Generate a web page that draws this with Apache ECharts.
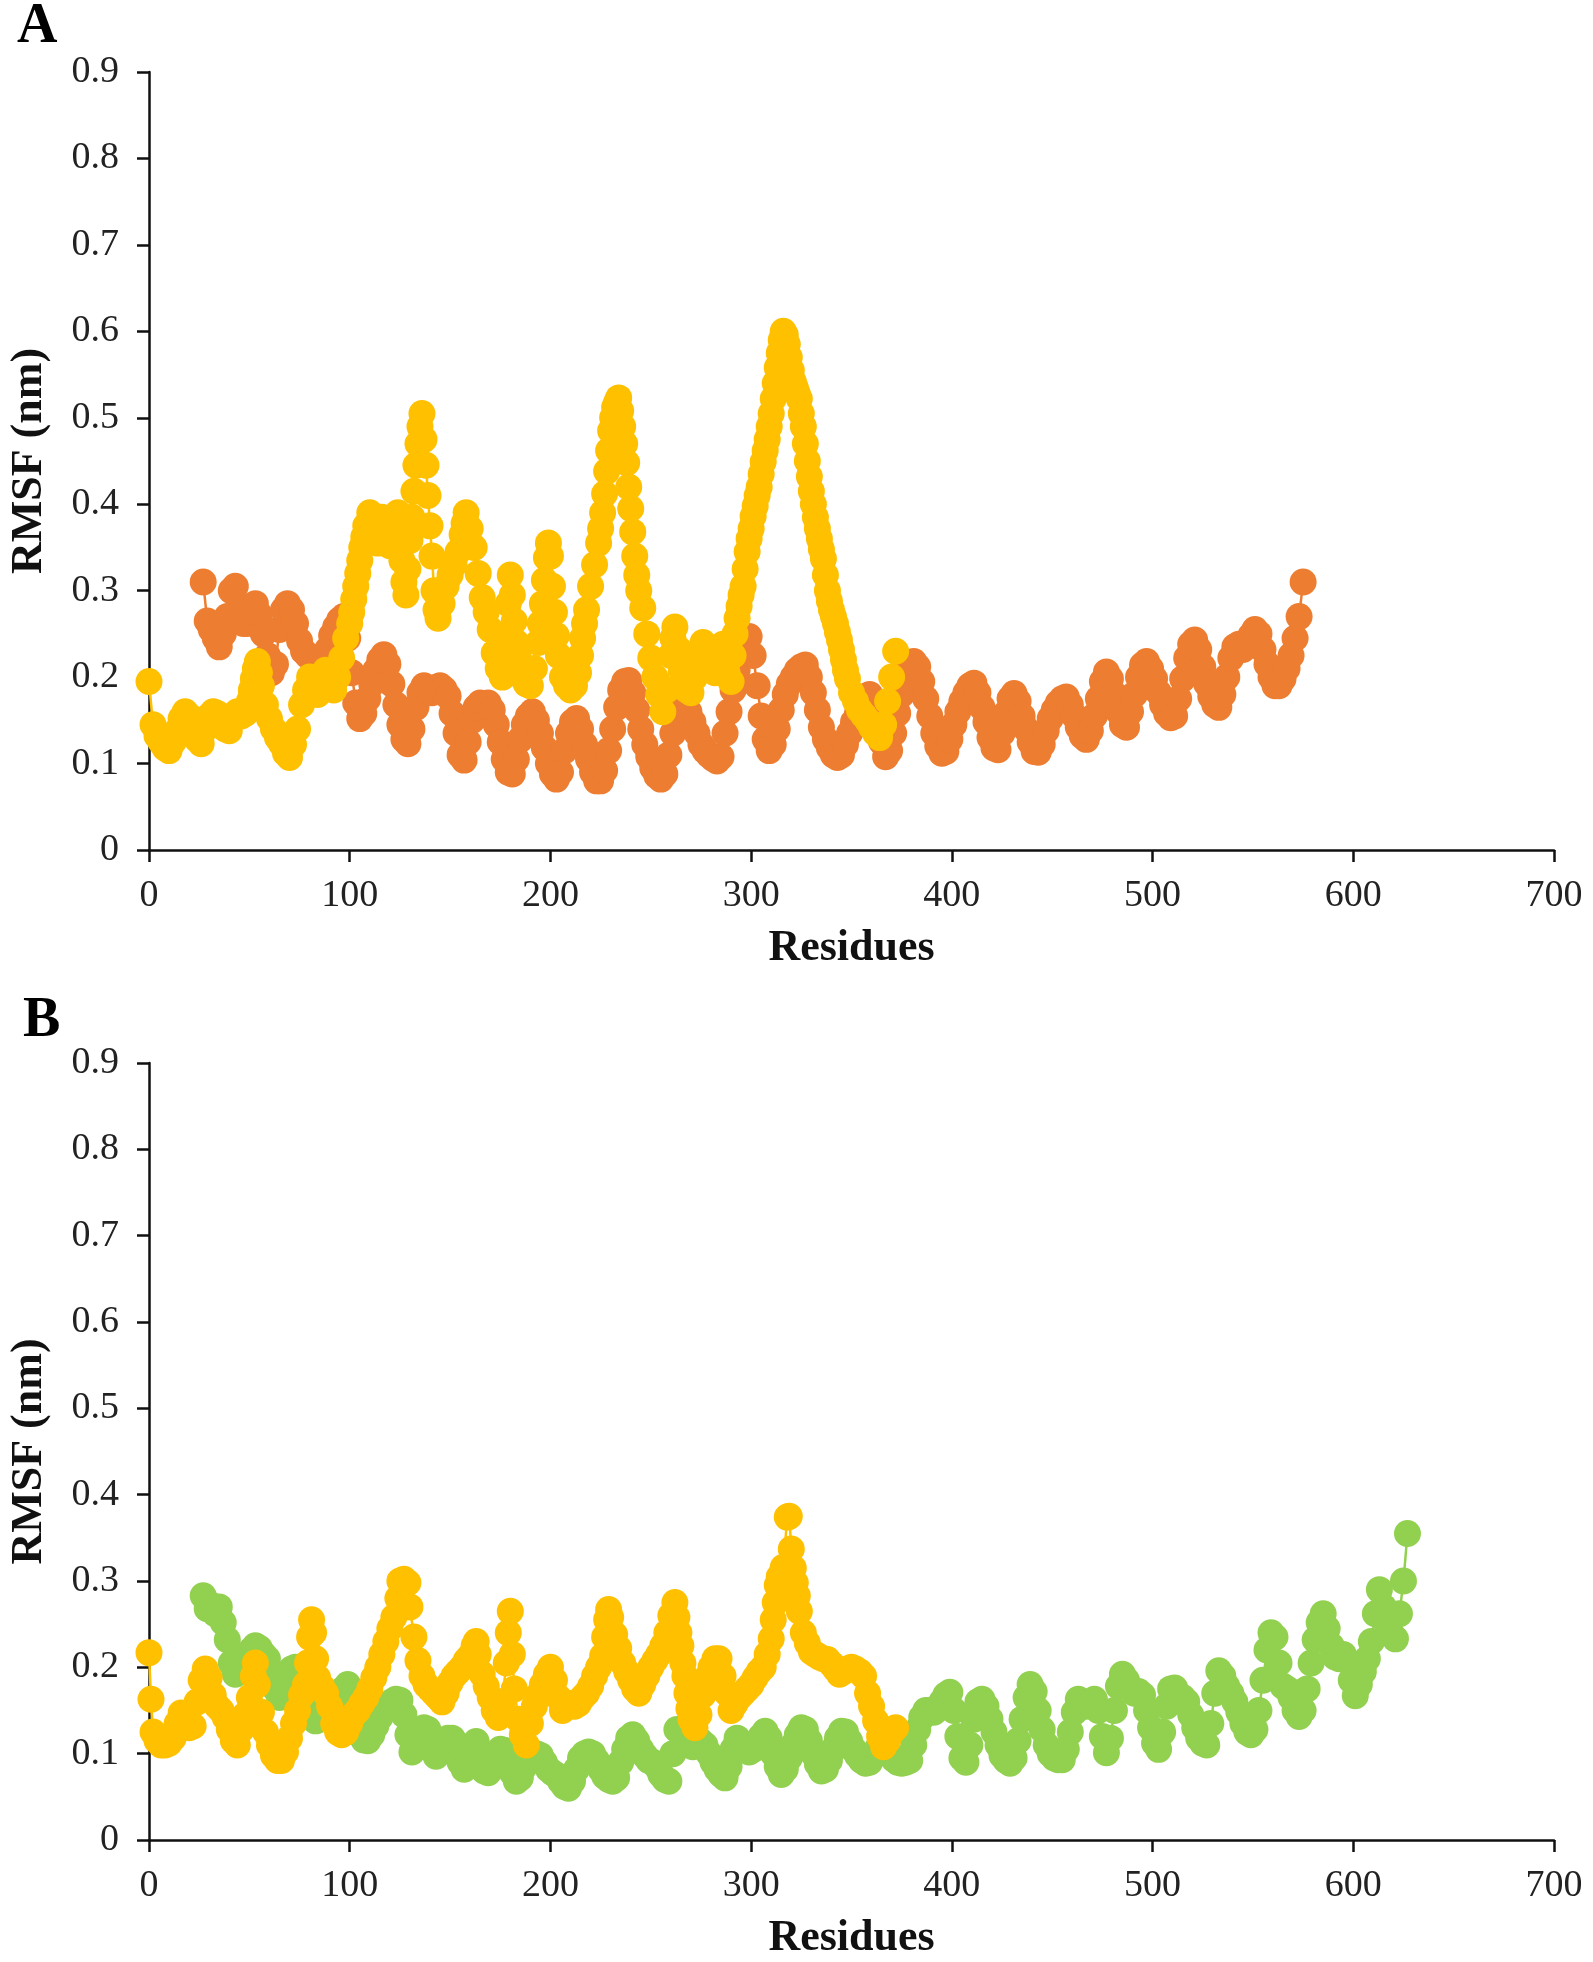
<!DOCTYPE html>
<html>
<head>
<meta charset="utf-8">
<script src="https://cdn.jsdelivr.net/npm/echarts@6/dist/echarts.min.js"></script>
<style>
html,body{margin:0;padding:0;background:#fff;}
#chart{width:1593px;height:1962px;}
</style>
</head>
<body>
<div id="chart"></div>
<script>
// ---------- DATA ----------
const xTicks = [0, 100, 200, 300, 400, 500, 600, 700];
const yTicks = [0, 0.1, 0.2, 0.3, 0.4, 0.5, 0.6, 0.7, 0.8, 0.9];
const xTitle = "Residues";
const yTitle = "RMSF (nm)";
const panelLabels = ["A", "B"];

// Panel A, orange series: residues 27,29,...,575 (step 2)
const orangeA_start = 27, orangeA_step = 2;
const orangeA = [
0.310,0.265,0.255,0.245,0.235,0.250,0.270,0.300,0.305,0.280,
0.262,0.262,0.275,0.285,0.272,0.250,0.225,0.205,0.215,0.255,
0.278,0.285,0.278,0.262,0.242,0.230,0.225,0.222,0.212,0.215,
0.222,0.232,0.248,0.258,0.266,0.270,0.245,0.205,0.170,0.152,
0.158,0.175,0.192,0.208,0.220,0.226,0.215,0.192,0.168,0.145,
0.128,0.123,0.140,0.165,0.182,0.190,0.186,0.182,0.188,0.190,
0.186,0.178,0.158,0.135,0.110,0.104,0.125,0.150,0.165,0.170,
0.168,0.170,0.162,0.145,0.125,0.105,0.090,0.088,0.105,0.128,
0.145,0.155,0.160,0.150,0.135,0.118,0.100,0.088,0.082,0.090,
0.115,0.135,0.148,0.152,0.140,0.122,0.105,0.090,0.080,0.080,
0.092,0.115,0.140,0.165,0.185,0.195,0.196,0.182,0.162,0.140,
0.122,0.108,0.095,0.086,0.082,0.088,0.110,0.135,0.158,0.170,
0.172,0.160,0.148,0.135,0.122,0.115,0.110,0.106,0.103,0.108,
0.135,0.160,0.185,0.208,0.228,0.242,0.247,0.225,0.190,0.155,
0.128,0.115,0.122,0.140,0.162,0.180,0.192,0.200,0.208,0.212,
0.214,0.200,0.182,0.162,0.142,0.128,0.118,0.110,0.107,0.110,
0.122,0.135,0.148,0.158,0.168,0.176,0.180,0.172,0.150,0.125,
0.108,0.115,0.135,0.158,0.180,0.198,0.212,0.218,0.212,0.195,
0.175,0.155,0.135,0.120,0.112,0.114,0.128,0.145,0.160,0.172,
0.182,0.190,0.193,0.182,0.165,0.148,0.130,0.118,0.116,0.135,
0.158,0.175,0.181,0.172,0.155,0.140,0.125,0.114,0.113,0.122,
0.138,0.152,0.162,0.170,0.175,0.177,0.168,0.155,0.142,0.132,
0.128,0.138,0.155,0.175,0.195,0.206,0.198,0.180,0.160,0.145,
0.142,0.160,0.180,0.200,0.214,0.218,0.210,0.198,0.182,0.168,
0.158,0.153,0.155,0.175,0.198,0.222,0.238,0.243,0.232,0.212,
0.192,0.178,0.168,0.165,0.180,0.200,0.222,0.235,0.238,0.232,
0.238,0.248,0.255,0.250,0.232,0.215,0.200,0.190,0.190,0.198,
0.210,0.225,0.245,0.270,0.310
];

// Panel A, yellow series: [residue, RMSF]
const yellowA = [
[0,0.195],[2,0.145],[4,0.132],[6,0.125],[8,0.118],[10,0.115],[12,0.125],[14,0.138],[16,0.152],[18,0.160],
[20,0.155],[22,0.142],[24,0.128],[26,0.123],[28,0.140],[30,0.155],[32,0.160],[34,0.158],[36,0.155],[38,0.140],
[40,0.138],[42,0.152],[44,0.160],[46,0.155],[48,0.158],[50,0.172],[51,0.185],[52,0.198],[53,0.210],[54,0.218],
[55,0.205],[56,0.190],[58,0.168],[60,0.152],[62,0.140],[64,0.130],[66,0.123],[68,0.112],[70,0.107],[72,0.122],
[74,0.140],[76,0.168],[78,0.185],[80,0.200],[82,0.192],[84,0.180],[86,0.198],[88,0.208],[90,0.195],[92,0.185],
[94,0.200],[96,0.222],[98,0.245],[100,0.262],[101,0.275],[102,0.290],[103,0.305],[104,0.320],[105,0.335],[106,0.350],
[107,0.362],[108,0.375],[110,0.390],[112,0.372],[114,0.355],[116,0.385],[118,0.380],[120,0.352],[122,0.368],[124,0.390],
[125,0.365],[126,0.335],[127,0.310],[128,0.295],[129,0.325],[130,0.358],[131,0.385],[132,0.415],[133,0.445],[134,0.470],
[135,0.490],[136,0.505],[137,0.475],[138,0.445],[139,0.410],[140,0.375],[141,0.340],[142,0.300],[143,0.278],[144,0.268],
[146,0.285],[148,0.305],[150,0.318],[152,0.330],[154,0.345],[156,0.365],[157,0.378],[158,0.390],[160,0.372],[162,0.350],
[164,0.320],[166,0.292],[168,0.275],[170,0.255],[172,0.228],[174,0.210],[176,0.200],[177,0.225],[178,0.250],[179,0.285],
[180,0.318],[181,0.295],[182,0.265],[183,0.240],[184,0.222],[186,0.200],[188,0.192],[190,0.190],[192,0.210],[194,0.240],
[195,0.262],[196,0.285],[197,0.312],[198,0.338],[199,0.355],[200,0.340],[201,0.305],[202,0.275],[203,0.248],[204,0.225],
[206,0.200],[208,0.190],[210,0.185],[212,0.190],[214,0.205],[215,0.225],[216,0.245],[217,0.262],[218,0.278],[220,0.305],
[222,0.330],[224,0.355],[225,0.372],[226,0.390],[227,0.412],[228,0.438],[229,0.462],[230,0.485],[231,0.500],[232,0.512],
[233,0.518],[234,0.523],[235,0.508],[236,0.490],[237,0.470],[238,0.448],[239,0.420],[240,0.395],[241,0.368],[242,0.340],
[243,0.318],[244,0.300],[246,0.280],[248,0.250],[250,0.222],[252,0.200],[254,0.180],[256,0.160],[258,0.185],[260,0.225],
[261,0.245],[262,0.258],[264,0.232],[266,0.205],[268,0.185],[270,0.182],[272,0.200],[274,0.218],[276,0.240],[278,0.232],
[280,0.212],[282,0.205],[284,0.222],[286,0.238],[288,0.205],[290,0.195],[291,0.225],[292,0.250],[293,0.268],[294,0.282],
[295,0.295],[296,0.305],[297,0.325],[298,0.345],[299,0.360],[300,0.372],[301,0.386],[302,0.398],[303,0.410],[304,0.420],
[305,0.435],[306,0.449],[307,0.462],[308,0.475],[309,0.490],[310,0.505],[311,0.522],[312,0.540],[313,0.558],[314,0.575],
[315,0.590],[316,0.600],[317,0.596],[318,0.585],[319,0.570],[320,0.555],[321,0.542],[322,0.535],[323,0.528],[324,0.522],
[325,0.505],[326,0.490],[327,0.470],[328,0.450],[329,0.432],[330,0.415],[331,0.400],[332,0.385],[333,0.372],[334,0.360],
[335,0.348],[336,0.337],[337,0.318],[338,0.300],[339,0.288],[340,0.278],[341,0.270],[342,0.262],[343,0.252],[344,0.243],
[345,0.232],[346,0.220],[347,0.208],[348,0.198],[350,0.182],[352,0.172],[354,0.162],[356,0.156],[358,0.150],[360,0.142],
[362,0.135],[364,0.130],[366,0.145],[368,0.172],[370,0.200],[372,0.230]
];

// Panel B, green series: residues 27,29,...,627 (step 2)
const greenB_start = 27, greenB_step = 2;
const greenB = [
0.283,0.268,0.272,0.262,0.270,0.252,0.232,0.205,0.192,0.198,
0.210,0.215,0.220,0.225,0.222,0.215,0.210,0.195,0.175,0.165,
0.168,0.185,0.198,0.200,0.188,0.168,0.150,0.142,0.138,0.140,
0.145,0.148,0.150,0.155,0.165,0.175,0.180,0.165,0.145,0.128,
0.116,0.115,0.122,0.132,0.142,0.150,0.156,0.160,0.163,0.162,
0.145,0.122,0.102,0.112,0.125,0.130,0.128,0.110,0.097,0.105,
0.115,0.118,0.118,0.112,0.090,0.082,0.092,0.105,0.114,0.098,
0.080,0.078,0.088,0.098,0.105,0.104,0.095,0.078,0.068,0.072,
0.085,0.096,0.100,0.100,0.098,0.090,0.082,0.078,0.075,0.068,
0.062,0.060,0.068,0.082,0.095,0.100,0.102,0.100,0.092,0.082,
0.074,0.070,0.068,0.072,0.090,0.105,0.118,0.122,0.115,0.105,
0.098,0.092,0.090,0.085,0.076,0.070,0.068,0.100,0.128,0.125,
0.115,0.110,0.108,0.110,0.114,0.110,0.100,0.090,0.082,0.076,
0.072,0.085,0.105,0.118,0.112,0.105,0.102,0.105,0.112,0.120,
0.126,0.118,0.100,0.085,0.076,0.082,0.095,0.110,0.122,0.130,
0.128,0.115,0.100,0.088,0.080,0.082,0.092,0.105,0.118,0.126,
0.125,0.115,0.105,0.098,0.092,0.089,0.090,0.098,0.106,0.110,
0.108,0.100,0.094,0.090,0.089,0.090,0.092,0.110,0.128,0.142,
0.150,0.150,0.148,0.152,0.160,0.168,0.171,0.150,0.120,0.095,
0.090,0.110,0.140,0.160,0.163,0.155,0.140,0.125,0.110,0.098,
0.092,0.089,0.095,0.115,0.140,0.165,0.180,0.172,0.150,0.128,
0.110,0.100,0.095,0.093,0.093,0.105,0.125,0.148,0.163,0.160,
0.155,0.158,0.163,0.150,0.120,0.101,0.118,0.150,0.178,0.192,
0.185,0.175,0.170,0.172,0.168,0.150,0.130,0.112,0.105,0.125,
0.155,0.175,0.176,0.168,0.165,0.160,0.145,0.130,0.118,0.112,
0.110,0.135,0.170,0.196,0.190,0.178,0.170,0.160,0.148,0.135,
0.125,0.122,0.128,0.150,0.185,0.220,0.240,0.235,0.205,0.178,
0.175,0.165,0.150,0.143,0.150,0.175,0.205,0.232,0.252,0.262,
0.245,0.225,0.212,0.210,0.215,0.208,0.185,0.167,0.180,0.195,
0.210,0.230,0.262,0.290,0.270,0.250,0.238,0.233,0.262,0.300,
0.355
];

// Panel B, yellow series: [residue, RMSF]
const yellowB = [
[0,0.217],[1,0.163],[2,0.125],[4,0.115],[6,0.110],[8,0.110],[10,0.112],[12,0.118],[14,0.135],[16,0.147],
[18,0.138],[20,0.130],[22,0.132],[24,0.160],[26,0.185],[28,0.198],[30,0.188],[32,0.168],[34,0.155],[36,0.150],
[38,0.142],[40,0.128],[42,0.115],[44,0.110],[46,0.128],[48,0.145],[50,0.165],[52,0.190],[53,0.205],[54,0.180],
[56,0.148],[58,0.125],[60,0.110],[62,0.098],[64,0.092],[66,0.092],[68,0.102],[70,0.118],[72,0.135],[74,0.150],
[76,0.168],[78,0.180],[79,0.205],[80,0.235],[81,0.255],[82,0.240],[83,0.210],[84,0.188],[86,0.178],[88,0.170],
[90,0.155],[92,0.135],[94,0.125],[96,0.122],[98,0.125],[100,0.135],[102,0.145],[104,0.150],[106,0.158],[108,0.165],
[110,0.175],[112,0.188],[114,0.200],[116,0.215],[118,0.230],[120,0.245],[122,0.258],[124,0.280],[125,0.300],[127,0.302],
[129,0.298],[130,0.270],[132,0.235],[134,0.208],[136,0.190],[138,0.180],[140,0.175],[142,0.170],[144,0.165],[146,0.160],
[148,0.170],[150,0.182],[152,0.190],[154,0.195],[156,0.200],[158,0.208],[160,0.213],[162,0.225],[163,0.230],[164,0.215],
[166,0.192],[168,0.178],[170,0.165],[172,0.150],[174,0.142],[176,0.160],[178,0.205],[179,0.240],[180,0.265],[181,0.215],
[182,0.175],[184,0.140],[186,0.122],[188,0.110],[190,0.135],[192,0.155],[194,0.168],[196,0.180],[198,0.192],[200,0.200],
[202,0.185],[204,0.165],[206,0.150],[208,0.155],[210,0.158],[212,0.155],[214,0.158],[216,0.165],[218,0.170],[220,0.178],
[222,0.190],[224,0.200],[226,0.213],[227,0.235],[228,0.255],[229,0.267],[230,0.258],[232,0.238],[234,0.222],[236,0.205],
[238,0.195],[240,0.185],[242,0.175],[244,0.170],[246,0.180],[248,0.190],[250,0.200],[252,0.208],[254,0.215],[256,0.225],
[258,0.240],[260,0.260],[262,0.275],[263,0.258],[264,0.240],[265,0.225],[266,0.205],[267,0.190],[268,0.170],[269,0.152],
[270,0.140],[272,0.130],[274,0.145],[276,0.168],[278,0.188],[280,0.200],[282,0.210],[284,0.210],[286,0.190],[288,0.170],
[290,0.150],[292,0.158],[294,0.165],[296,0.170],[298,0.175],[300,0.180],[302,0.188],[304,0.195],[306,0.200],[308,0.215],
[310,0.233],[311,0.255],[312,0.275],[313,0.295],[314,0.305],[316,0.316],[318,0.374],[319,0.375],[320,0.337],[321,0.315],
[322,0.298],[323,0.283],[324,0.265],[326,0.240],[328,0.228],[330,0.218],[332,0.215],[334,0.212],[336,0.210],[338,0.209],
[340,0.204],[342,0.198],[344,0.192],[346,0.195],[348,0.198],[350,0.200],[352,0.198],[354,0.195],[356,0.190],[358,0.170],
[360,0.155],[362,0.138],[364,0.120],[366,0.108],[368,0.115],[370,0.125],[372,0.130]
];

// ---------- BUILD ----------
function toPairs(start, step, vals) {
  return vals.map((v, i) => [start + i * step, v]);
}
const COL_ORANGE = '#ED7D31', COL_YELLOW = '#FFC000', COL_GREEN = '#92D050';
const FONT = '"Liberation Serif", "DejaVu Serif", serif';

function xAxisFor(gi) {
  return {
    type: 'value', gridIndex: gi, min: xTicks[0], max: xTicks[xTicks.length - 1], interval: 100,
    name: xTitle, nameLocation: 'middle', nameGap: 77,
    nameTextStyle: { fontFamily: FONT, fontWeight: 'bold', fontSize: 44, color: '#111' },
    axisLine: { show: true, onZero: false, lineStyle: { color: '#111', width: 2.5 } },
    axisTick: { show: true, inside: false, length: 12, lineStyle: { color: '#111', width: 2.5 } },
    axisLabel: { margin: 27, fontFamily: FONT, fontSize: 38, color: '#222' },
    splitLine: { show: false }
  };
}
function yAxisFor(gi) {
  return {
    type: 'value', gridIndex: gi, min: yTicks[0], max: yTicks[yTicks.length - 1], interval: 0.1,
    name: yTitle, nameLocation: 'middle', nameGap: 97, nameRotate: 90,
    nameTextStyle: { fontFamily: FONT, fontWeight: 'bold', fontSize: 44, color: '#111' },
    axisLine: { show: true, lineStyle: { color: '#111', width: 2.5 } },
    axisTick: { show: true, inside: false, length: 12, lineStyle: { color: '#111', width: 2.5 } },
    axisLabel: { margin: 30, fontFamily: FONT, fontSize: 38, color: '#222',
      formatter: v => String(Math.round(v * 10) / 10) },
    splitLine: { show: false }
  };
}
function seriesFor(gi, data, color) {
  return {
    type: 'line', xAxisIndex: gi, yAxisIndex: gi, data: data,
    symbol: 'circle', symbolSize: 27, showSymbol: true, showAllSymbol: true,
    itemStyle: { color: color },
    lineStyle: { color: color, width: 2.5 },
    emphasis: { disabled: true }, silent: true, animation: false
  };
}

const chart = echarts.init(document.getElementById('chart'), null, { renderer: 'canvas' });
chart.setOption({
  backgroundColor: '#ffffff',
  animation: false,
  grid: [
    { left: 148, top: 72, width: 1406, height: 778 },
    { left: 148, top: 1063, width: 1406, height: 778 }
  ],
  xAxis: [xAxisFor(0), xAxisFor(1)],
  yAxis: [yAxisFor(0), yAxisFor(1)],
  series: [
    seriesFor(0, toPairs(orangeA_start, orangeA_step, orangeA), COL_ORANGE),
    seriesFor(0, yellowA, COL_YELLOW),
    seriesFor(1, toPairs(greenB_start, greenB_step, greenB), COL_GREEN),
    seriesFor(1, yellowB, COL_YELLOW)
  ],
  graphic: [
    { type: 'text', left: 17, top: 0, style: { text: panelLabels[0], font: 'bold 56px ' + FONT, fill: '#000' } },
    { type: 'text', left: 23, top: 994, style: { text: panelLabels[1], font: 'bold 56px ' + FONT, fill: '#000' } }
  ]
});
</script>
</body>
</html>
